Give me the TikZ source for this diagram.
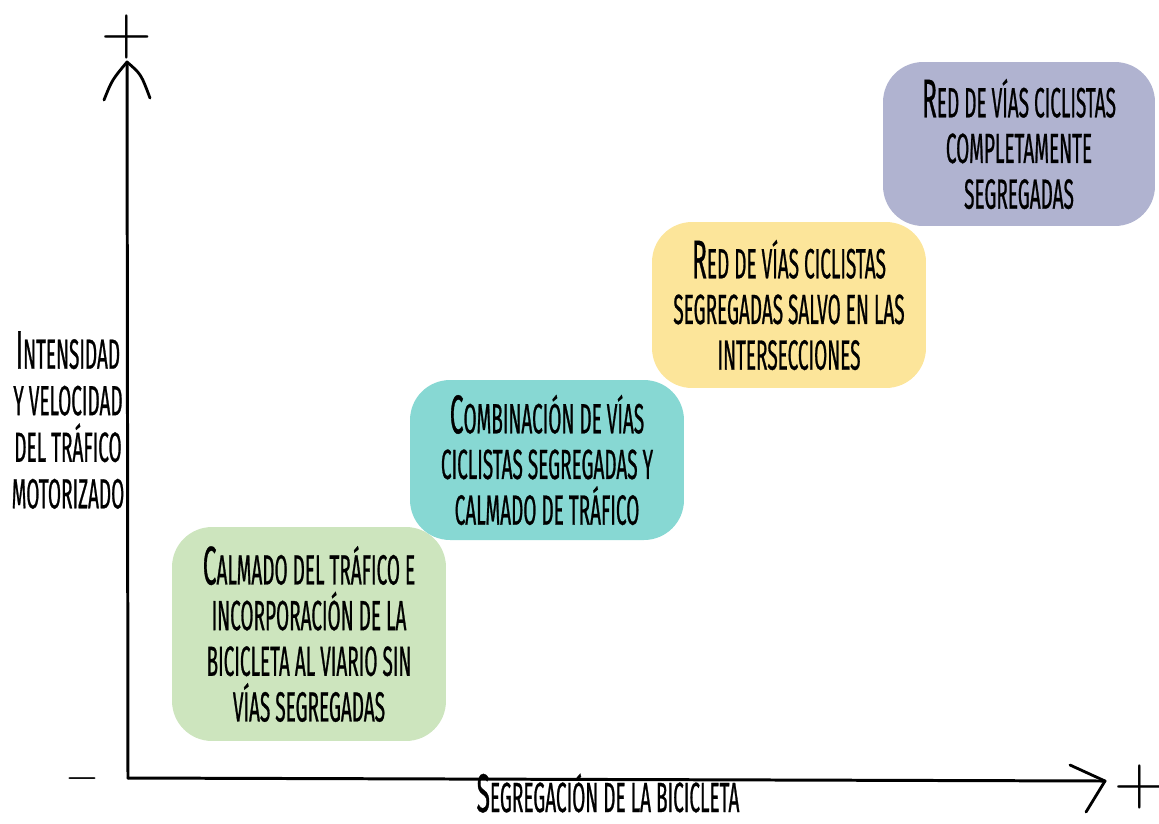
\documentclass[tikz,border=0pt]{standalone}
\usepackage{fontspec}
\newfontfamily\hand[FakeStretch=0.45, FakeBold=0.6]{Fira Sans}
\usepackage{tikz}
\definecolor{calmgreen}{HTML}{CDE5BE}
\definecolor{mixteal}{HTML}{87D8D3}
\definecolor{netyellow}{HTML}{FCE59A}
\definecolor{fullpurple}{HTML}{B0B3D0}
\newcommand{\firstletter}[1]{{\fontsize{31}{26}\selectfont #1}}
\tikzstyle{axis} = [line width=1.7pt, line cap=round]
\tikzstyle{head} = [line width=1.6pt, line cap=round, line join=round]
\tikzstyle{blob} = [rounded corners=0.8cm, inner sep=0pt, align=center, font=\hand\fontsize{24}{26}\selectfont]
\tikzstyle{label} = [align=center, inner sep=0pt, font=\hand\fontsize{24}{26.5}\selectfont]
\tikzstyle{sign} = [inner sep=0pt, font=\fontsize{40}{40}\selectfont]

\begin{document}
\begin{tikzpicture}[x=0.02cm, y=-0.02cm]
            \useasboundingbox (0,0) rectangle (1159,823);

            \coordinate (origin) at (128,778);
            \coordinate (ytip) at (127,62);
            \coordinate (yleft) at (104,100);
            \coordinate (yright) at (150,98);
            \coordinate (xtip) at (1105,781);
            \coordinate (xup) at (1070,765);
            \coordinate (xdown) at (1086,812);

            \node (calm) [blob, fill=calmgreen, minimum width=5.48cm, minimum height=4.28cm] at (309,634) {\firstletter{C}ALMADO DEL TRÁFICO E\\INCORPORACIÓN DE LA\\BICICLETA AL VIARIO SIN\\VÍAS SEGREGADAS};
            \node (mix) [blob, fill=mixteal, minimum width=5.48cm, minimum height=3.2cm] at (547,460) {\firstletter{C}OMBINACIÓN DE VÍAS\\CICLISTAS SEGREGADAS Y\\CALMADO DE TRÁFICO};
            \node (net) [blob, fill=netyellow, minimum width=5.48cm, minimum height=3.32cm] at (789,305) {\firstletter{R}ED DE VÍAS CICLISTAS\\SEGREGADAS SALVO EN LAS\\INTERSECCIONES};
            \node (full) [blob, fill=fullpurple, minimum width=5.44cm, minimum height=3.28cm] at (1019,144) {\firstletter{R}ED DE VÍAS CICLISTAS\\COMPLETAMENTE\\SEGREGADAS};

            \node (ylabel) [label] at (68,420) {\firstletter{I}NTENSIDAD\\Y VELOCIDAD\\DEL TRÁFICO\\MOTORIZADO};
            \node (xlabel) [label, anchor=base] at (608,812) {\firstletter{S}EGREGACIÓN DE LA BICICLETA};

            \node (yplus) [sign] at (127,37) {+};
            \node (xplus) [sign] at (1140,787) {+};
            \node (minus) [sign] at (82,779) {$-$};

            \draw [axis] (origin) -- (ytip);
            \draw [axis] (origin) -- (xtip);
            \draw [head] (yleft) .. controls (112,80) .. (ytip) .. controls (141,74) .. (yright);
            \draw [head] (xup) -- (xtip) -- (xdown);

        \end{tikzpicture}
\end{document}
